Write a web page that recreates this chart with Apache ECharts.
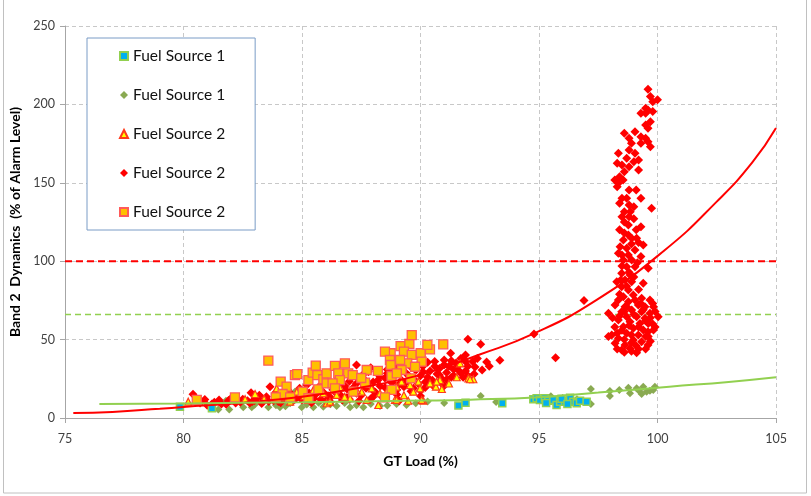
<!DOCTYPE html>
<html>
<head>
<meta charset="utf-8">
<script src="https://cdn.jsdelivr.net/npm/echarts@6/dist/echarts.min.js"></script>
<style>html,body{margin:0;padding:0;background:#fff;}#c{width:811px;height:496px;}</style>
</head>
<body>
<div id="c"></div>
<script>
const xTicks = [75, 80, 85, 90, 95, 100, 105];
const yTicks = [0, 50, 100, 150, 200, 250];
const seriesNames = ['Fuel Source 1', 'Fuel Source 1 ', 'Fuel Source 2', 'Fuel Source 2 ', 'Fuel Source 2  '];
const alarmLevel = 100;
const warnLevel = 66;

const fs1Squares = [[79.85,7.2],[81.2,6.2],[91.6,7.9],[91.9,9.8],[93.45,9.4],[94.76,11.9],[94.9,12.6],[95.04,11.5],[95.25,12.6],[95.39,11.0],[95.6,11.5],[95.74,8.3],[95.89,10.4],[96.1,10.4],[96.31,12.9],[96.45,10.4],[96.59,9.4],[96.73,11.0],[97.01,10.4],[95.3,9.6],[95.95,12.2],[96.2,9.0]];

const fs1Diamonds = [[81.79,11.0],[81.47,5.5],[81.93,5.5],[82.52,6.8],[83.23,14.0],[82.88,6.8],[83.58,6.8],[84.07,6.8],[84.5,9.4],[84.7,16.8],[84.99,6.8],[85.48,6.8],[85.9,7.2],[86.46,7.7],[87.03,6.8],[87.59,6.8],[88.29,7.7],[88.99,8.9],[89.41,8.3],[83.0,8.5],[83.9,8.2],[84.3,7.5],[85.2,8.6],[85.7,9.8],[86.2,8.8],[86.8,9.5],[87.3,8.2],[87.9,9.0],[88.6,8.0],[89.8,9.4],[90.3,10.5],[91.0,9.6],[92.54,14.0],[93.19,10.2],[97.19,18.5],[97.19,8.9],[97.99,17.2],[97.99,14.0],[98.39,17.9],[98.77,19.3],[98.84,15.8],[99.12,18.9],[99.23,17.2],[99.4,20.0],[99.54,16.8],[99.68,17.4],[99.82,17.9],[99.89,20.0],[99.33,15.3],[95.5,13.8],[96.0,12.8],[96.6,12.0]];

const fs2Triangles = [[80.2,10.4],[83.93,18.9],[83.02,15.3],[84.5,10.4],[84.78,16.8],[85.48,17.9],[85.27,11.5],[85.9,15.8],[86.04,9.4],[86.18,10.4],[86.46,14.7],[87.52,16.8],[88.29,15.8],[88.99,20.0],[89.56,21.0],[89.91,23.2],[90.4,22.1],[90.65,20.0],[91.67,34.9],[92.23,24.7],[88.92,11.5],[89.48,11.0],[90.12,11.0],[88.22,8.3],[87.03,12.6],[87.73,11.5],[89.7,16.8],[89.98,18.9],[89.2,23.2],[90.82,24.2],[91.53,26.0],[92.02,25.3],[90.68,23.2],[90.05,11.5],[88.99,11.5],[87.94,18.9],[92.09,24.7],[82.6,12.0],[83.4,12.2],[84.1,13.5],[86.8,13.5],[87.3,18.0],[88.6,17.5],[89.3,14.5],[90.9,18.5],[91.2,22.0],[86.6,19.5],[85.1,14.0]];

const fs2Diamonds = [[80.4,15.1],[80.7,9.5],[81.0,8.2],[81.3,10.1],[81.6,9.0],[81.9,11.2],[82.2,9.6],[82.5,12.0],[82.85,16.1],[82.9,10.5],[83.1,12.8],[83.3,9.2],[83.5,13.5],[83.65,20.0],[83.8,11.0],[84.0,14.2],[84.1,9.8],[84.3,12.4],[84.5,16.0],[84.6,10.6],[84.8,13.2],[85.0,11.4],[85.1,17.5],[85.3,13.0],[85.4,9.8],[85.6,15.5],[85.7,19.8],[85.8,12.0],[86.0,22.0],[86.1,14.2],[86.2,10.2],[86.3,18.0],[86.5,24.5],[86.6,15.0],[86.7,11.5],[86.8,20.5],[86.9,13.0],[87.0,26.8],[87.1,17.2],[87.3,33.8],[87.3,22.0],[87.4,10.8],[87.5,14.5],[87.6,25.0],[87.7,19.0],[87.8,29.5],[87.9,12.2],[88.0,23.0],[88.1,16.5],[88.2,28.0],[88.3,20.2],[88.4,13.2],[88.5,25.5],[88.6,31.0],[88.7,18.0],[88.8,22.5],[88.9,27.0],[89.0,15.0],[89.0,33.0],[89.1,11.0],[89.2,24.0],[89.3,20.0],[89.4,28.5],[89.5,35.0],[89.6,17.0],[89.7,25.0],[89.8,30.5],[89.9,22.0],[90.0,27.0],[90.0,14.0],[90.1,33.0],[90.2,19.5],[90.3,26.0],[90.4,30.0],[90.5,24.0],[90.6,36.0],[90.7,28.0],[90.8,31.5],[90.9,25.0],[91.0,37.0],[91.1,29.0],[91.2,33.0],[91.27,41.3],[91.4,27.0],[91.5,35.0],[91.6,30.5],[91.7,38.0],[91.8,26.0],[91.9,40.2],[92.0,50.2],[92.0,33.0],[92.05,24.9],[92.2,36.0],[92.26,28.0],[92.54,47.0],[92.6,30.6],[92.79,35.7],[93.35,36.8],[94.79,53.6],[95.7,38.5],[96.9,75.0],
[86.4,16.5],[86.9,18.5],[87.2,20.0],[87.5,23.5],[87.9,21.0],[88.2,24.0],[88.5,19.5],[88.8,26.0],[89.1,21.5],[89.4,23.0],[89.7,19.0],[90.2,23.0],[90.5,21.0],[90.8,27.5],[91.1,24.5],[91.4,31.0],[91.7,28.5],[88.0,17.5],[87.3,15.8],[86.2,13.0],[85.5,12.5],[84.8,15.0],[84.2,11.5],[83.6,10.5],[83.0,11.2],[82.4,10.0],[81.8,8.8],[81.2,9.0],
[82.0,12.5],[82.7,11.0],[83.2,14.5],[83.9,16.5],[84.4,18.0],[84.9,19.0],[85.2,21.0],[85.9,16.5],[86.3,21.0],[86.6,27.0],[87.0,23.5],[87.6,28.0],[87.9,32.0],[88.3,26.5],[88.6,28.5],[88.9,30.0],[89.2,31.5],[89.6,32.5],[89.9,34.0],[90.3,35.5],[90.6,33.0],[91.0,34.0],[91.3,36.5],[91.6,33.5],[91.9,36.0],[92.3,32.5],[92.4,38.0],[90.9,22.0],[91.3,26.0],[91.9,30.0],[92.9,33.0],[90.1,29.5],[89.5,27.0],[88.7,24.0],[87.7,22.0],[86.5,20.5],[85.9,22.5],[85.3,16.0],[84.7,12.0],[84.0,10.5],[83.4,11.8],[82.8,9.5],[81.5,11.5],[80.9,11.8],[86.0,11.0],[87.0,12.0],[88.0,13.5],[89.0,18.0],[90.0,17.5],[91.0,20.5],[92.0,27.0],
[99.6,209.6],[99.7,205.0],[100.0,203.0],[99.8,201.7],[99.5,197.5],[99.6,196.4],[99.3,194.3],[99.5,194.3],[99.8,195.4],[99.7,189.0],[99.5,186.9],[99.6,184.8],[98.6,181.6],[99.05,182.6],[98.8,178.4],[99.3,179.4],[99.5,178.4],[98.9,175.2],[99.6,176.2],[99.3,175.2],[99.7,173.0],[98.8,170.9],[98.35,168.8],[99.05,168.8],[98.7,165.6],[99.2,164.5],[98.3,162.4],[98.5,161.4],[98.8,160.3],[99.0,163.5],[98.6,157.1],[99.2,158.2],[98.4,153.9],[98.55,151.8],[98.2,151.8],[98.35,149.7],[98.3,147.5],[98.8,145.4],[99.1,145.4],[98.5,140.1],[98.7,140.1],[99.3,140.1],[98.4,136.9],[98.8,135.8],[99.0,134.8],[98.6,131.6],[98.85,131.6],[99.75,133.7],[98.5,128.4],[98.8,128.4],
[98.77,123.1],[98.77,116.7],[98.56,113.5],[98.91,114.6],[99.12,114.6],[99.4,110.3],[98.42,109.2],[98.7,108.2],[99.05,107.1],[98.35,105.0],[98.77,104.0],[98.56,100.8],[98.91,100.8],[98.7,96.5],[99.05,96.5],[99.61,95.5],[98.49,92.3],[98.84,91.2],[98.63,88.0],[98.91,86.9],[98.28,86.9],[99.4,85.9],[98.49,83.7],[98.77,81.6],[98.98,78.4],[98.56,77.4],[98.35,75.3],[98.77,74.2],[99.05,75.3],[99.33,76.3],[99.68,75.3],[98.21,72.1],[98.63,71.0],[99.19,72.1],[99.47,71.0],[99.83,71.0],[98.49,67.8],[98.91,68.9],[99.33,67.8],[99.68,66.8],[97.93,66.8],[100.03,64.6],[98.7,64.6],[99.12,64.6],[99.47,63.6],[98.35,62.5],[98.84,61.4],[99.26,60.3],[99.61,60.3],[98.56,58.2],[98.98,57.2],[99.4,56.1],[99.83,56.1],[98.7,54.0],[99.19,52.9],[99.61,51.9],[98.07,52.9],[98.35,50.8],[98.98,49.7],[99.33,48.7],[97.93,51.9],[98.21,47.6],[98.63,46.6],[98.49,43.4],[98.84,44.4],[99.12,41.6],
[98.3,44.0],[98.6,50.0],[98.9,53.0],[99.2,58.0],[99.5,62.0],[99.8,60.0],[99.0,66.0],[99.4,69.0],[98.6,68.0],[98.2,58.0],[99.7,64.0],[99.9,68.0],[99.5,52.0],[99.1,46.0],[98.9,42.5],[98.5,56.0],[98.1,64.0],[99.3,73.0],[99.8,73.0],[98.8,59.0],[99.6,46.5],[98.4,79.0],[99.2,82.0],[98.7,84.0],[99.0,90.0],[98.5,97.0],[99.3,103.0],[98.9,111.0],[98.6,118.0],[99.1,120.0],
[98.4,120.0],[98.6,125.0],[99.0,127.0],[99.3,122.0],[98.7,71.0],[98.4,65.0],[99.6,55.0],[99.9,58.0],[99.2,44.0],[98.6,42.0],[99.5,44.0],[98.9,48.0],[98.3,54.0],[99.7,49.0],[98.45,88.0],[98.8,93.0],[99.15,99.0],[98.5,104.0],[99.2,112.0]];

const fs2Squares = [[80.56,11.5],[82.17,13.1],[83.58,36.6],[84.1,23.2],[84.35,20.0],[84.18,15.3],[83.89,13.2],[84.7,27.4],[84.8,28.0],[85.03,16.8],[85.27,24.2],[85.45,28.9],[85.58,33.4],[85.65,27.4],[85.9,24.7],[86.04,28.5],[85.69,18.3],[86.04,22.1],[85.27,12.6],[84.5,13.2],[86.39,33.2],[86.81,34.9],[86.53,28.5],[86.95,28.5],[86.6,24.2],[87.14,27.4],[87.73,30.6],[86.29,22.1],[88.74,41.3],[88.5,42.3],[88.71,37.0],[88.74,33.8],[89.16,45.9],[89.53,47.2],[89.63,52.9],[89.3,42.3],[89.63,40.2],[90.01,41.3],[90.4,43.8],[90.96,47.0],[90.05,35.9],[89.44,34.9],[89.2,30.6],[89.77,32.7],[88.78,26.8],[89.6,25.3],[87.66,22.5],[87.16,16.8],[88.78,17.9],[88.5,13.2],[86.39,18.9],[90.29,46.6],[89.14,37.0],[88.2,30.0],[87.5,25.5],[89.0,28.5]];

const redTrend = [[75.35,3.2],[77,3.9],[79,5.9],[80,7.0],[82.5,9.8],[85,13.5],[87.5,19.5],[90,27.5],[92.5,40.5],[94.75,53.6],[97.4,75.0],[100.3,107.0],[102.5,138.0],[104,163.0],[105,185.0]];
const greenTrend = [[76.45,8.9],[80,9.3],[85,10.1],[90,11.1],[92.1,11.7],[95,13.3],[97.5,16.2],[100.5,20.0],[103,23.0],[105,26.0]];

const FONT = 'Lato, "Liberation Sans", sans-serif';
const chart = echarts.init(document.getElementById('c'), null, {renderer: 'canvas'});

function scatter(name, data, symbol, size, fill, border, bw, z) {
  return {
    name: name, type: 'scatter', data: data, symbol: symbol, symbolSize: size, z: z,
    itemStyle: {color: fill, borderColor: border, borderWidth: bw, opacity: 1},
    emphasis: {disabled: true}, animation: false
  };
}

chart.setOption({
  animation: false,
  backgroundColor: '#fff',
  grid: {left: 65, right: 35, top: 26, bottom: 78, containLabel: false},
  xAxis: {
    type: 'value', min: xTicks[0], max: xTicks[xTicks.length - 1], interval: 5,
    name: 'GT Load (%)', nameLocation: 'middle', nameGap: 36,
    nameTextStyle: {fontFamily: FONT, fontSize: 14, fontWeight: 'bold', color: '#000'},
    axisLine: {show: true, lineStyle: {color: '#A6A6A6', width: 1}},
    axisTick: {show: true, inside: false, length: 5, lineStyle: {color: '#A6A6A6'}},
    axisLabel: {fontFamily: FONT, fontSize: 12.5, color: '#404040', margin: 14},
    splitLine: {show: true, lineStyle: {color: '#C8C8C8', type: [4, 3], width: 1}}
  },
  yAxis: {
    type: 'value', min: yTicks[0], max: yTicks[yTicks.length - 1], interval: 50,
    name: 'Band 2  Dynamics  (% of Alarm Level)', nameLocation: 'middle', nameGap: 40,
    nameTextStyle: {fontFamily: FONT, fontSize: 14, fontWeight: 'bold', color: '#000'},
    axisLine: {show: true, lineStyle: {color: '#A6A6A6', width: 1}},
    axisTick: {show: true, inside: false, length: 5, lineStyle: {color: '#A6A6A6'}},
    axisLabel: {fontFamily: FONT, fontSize: 12.5, color: '#404040', margin: 10},
    splitLine: {show: true, lineStyle: {color: '#C8C8C8', type: [4, 3], width: 1}}
  },
  legend: {
    data: seriesNames, orient: 'vertical', left: 87, top: 38,
    padding: [10, 30, 10, 32], itemGap: 23, itemWidth: 8, itemHeight: 8,
    borderColor: '#7A9CC6', borderWidth: 1, backgroundColor: '#fff',
    formatter: function (n) { return n.trim(); },
    textStyle: {fontFamily: FONT, fontSize: 15.5, color: '#111'},
    selectedMode: false
  },
  graphic: [{type: 'rect', shape: {x: 3.5, y: -2, width: 803, height: 495}, style: {fill: 'none', stroke: '#C0C0C0', lineWidth: 1}, silent: true, z: -10}],
  series: [
    {name: 'alarm', type: 'line', data: [[xTicks[0], alarmLevel], [xTicks[xTicks.length - 1], alarmLevel]], symbol: 'none', z: 1,
      lineStyle: {color: '#FF0000', width: 2, type: [7, 4]}, silent: true},
    {name: 'warn', type: 'line', data: [[xTicks[0], warnLevel], [xTicks[xTicks.length - 1], warnLevel]], symbol: 'none', z: 1,
      lineStyle: {color: '#92D050', width: 1.5, type: [6, 4]}, silent: true},
    scatter(seriesNames[1], fs1Diamonds, 'diamond', 8, '#8AAA52', '#8AAA52', 0, 2),
    scatter(seriesNames[3], fs2Diamonds, 'diamond', 9, '#FF0000', '#FF0000', 0, 3),
    scatter(seriesNames[2], fs2Triangles, 'triangle', 7, '#FFFF00', '#FF3A1A', 1.2, 4),
    scatter(seriesNames[4], fs2Squares, 'rect', 9, '#FFC000', '#FF5A5A', 1.3, 5),
    scatter(seriesNames[0], fs1Squares, 'rect', 7, '#00B0F0', '#92D050', 1.5, 6),
    {name: 'redTrend', type: 'line', data: redTrend, smooth: true, symbol: 'none', z: 7,
      lineStyle: {color: '#FF0000', width: 2}, silent: true},
    {name: 'greenTrend', type: 'line', data: greenTrend, smooth: true, symbol: 'none', z: 7,
      lineStyle: {color: '#92D050', width: 2}, silent: true}
  ]
});
</script>
</body>
</html>
